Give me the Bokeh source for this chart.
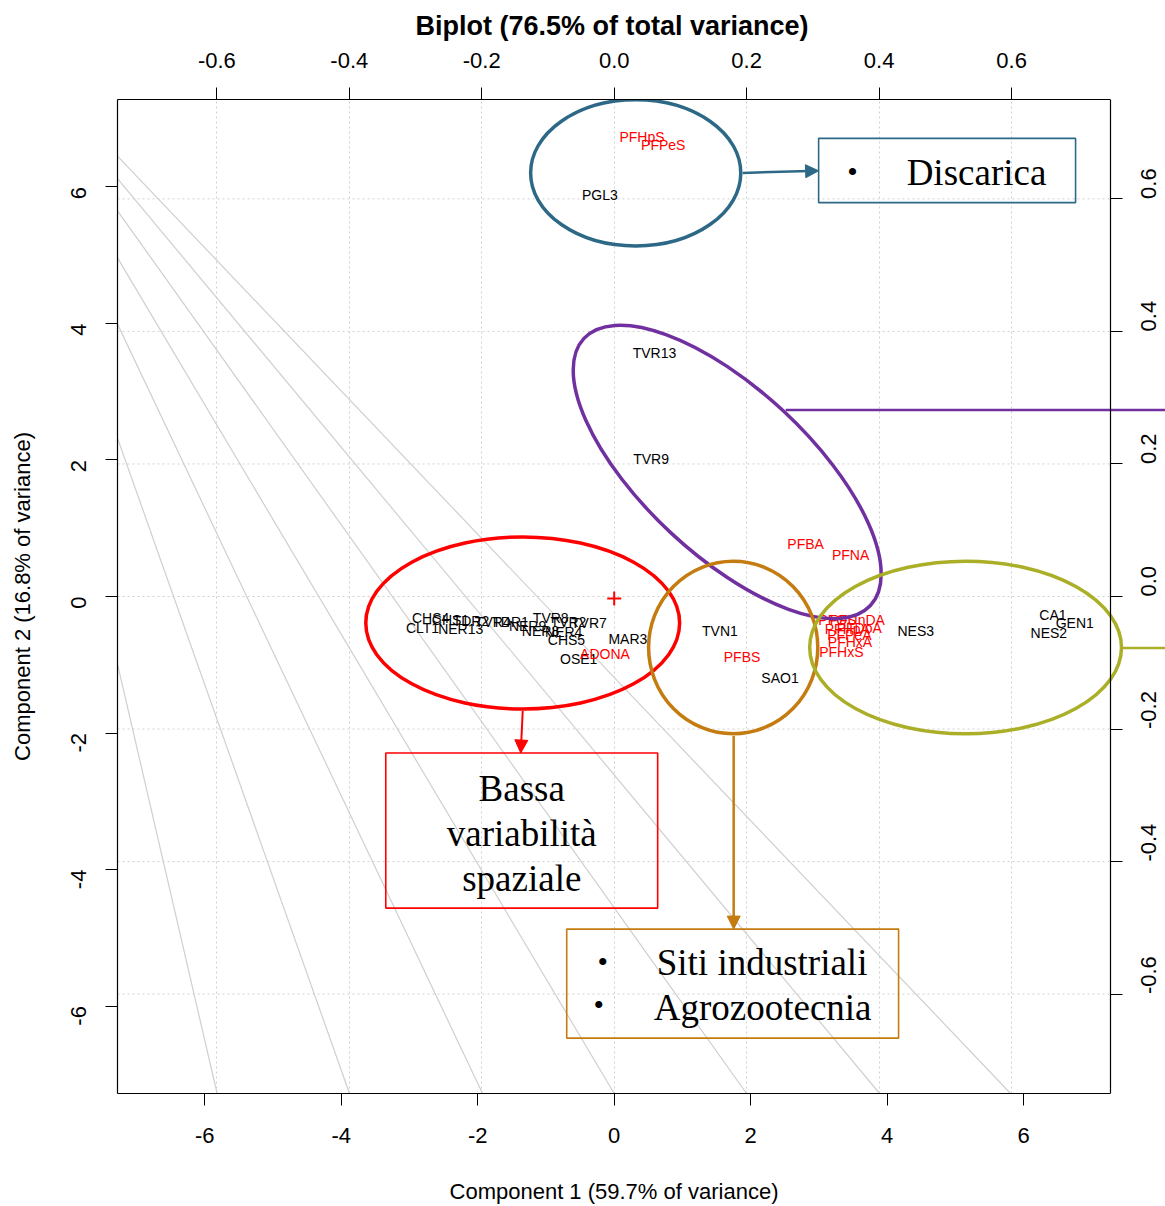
import math
from bokeh.plotting import figure
from bokeh.models import (Range1d, LinearAxis, FixedTicker, PrintfTickFormatter,
                          Grid, Arrow, NormalHead, Label)
from bokeh.embed import file_html
from bokeh.resources import INLINE

# ---------------- data ----------------
score_ticks = [-6, -4, -2, 0, 2, 4, 6]
load_ticks = [-0.6, -0.4, -0.2, 0.0, 0.2, 0.4, 0.6]

obs_labels = ["PGL3", "TVR13", "TVR9", "TVN1", "SAO1", "NES3", "CA1", "GEN1", "NES2",
              "MAR3", "OSE1", "CHS5", "CHS4", "CLT1", "CHS1", "NER13", "TDR2", "TVR4",
              "TDR1", "NER9", "TVR8", "NER8", "NER4", "TVR2", "TVR7"]
obs_pc1 = [-0.21, 0.59, 0.54, 1.55, 2.43, 4.42, 6.43, 6.75, 6.37,
           0.20, -0.52, -0.70, -2.69, -2.81, -2.40, -2.25, -2.10, -1.78,
           -1.52, -1.27, -0.93, -1.08, -0.74, -0.67, -0.37]
obs_pc2 = [5.88, 3.56, 2.02, -0.51, -1.19, -0.51, -0.27, -0.39, -0.54,
           -0.62, -0.92, -0.64, -0.32, -0.46, -0.34, -0.48, -0.36, -0.37,
           -0.37, -0.43, -0.32, -0.51, -0.52, -0.37, -0.39]

var_labels = ["PFHpS", "PFPeS", "PFBA", "PFNA", "ADONA", "PFBS", "PFOS", "PFUnDA",
              "PFDoA", "PFHpA", "PFPeA", "PFHxA", "PFHxS"]
var_pc1 = [0.042, 0.074, 0.289, 0.357, -0.014, 0.193, 0.337, 0.367,
           0.370, 0.352, 0.355, 0.356, 0.343]
var_pc2 = [0.694, 0.682, 0.079, 0.063, -0.087, -0.091, -0.035, -0.035,
           -0.048, -0.049, -0.058, -0.069, -0.084]

# grey fan of reference lines (left edge -> bottom edge), score units
fan_y_left = [6.45, 6.12, 5.65, 4.96, 3.99, 2.32, -0.99]
fan_x_bottom = [5.81, 3.89, 1.94, 0.0, -1.93, -3.88, -5.82]

# annotation groups (ellipses)
ell_x = [0.315, 1.656, -1.341, 1.744, 5.150]
ell_y = [6.205, 1.824, -0.388, -0.747, -0.747]
ell_w = [3.08, 5.74, 4.60, 2.48, 4.57]
ell_h = [2.14, 2.43, 2.52, 2.53, 2.53]
ell_angle_deg = [0, -43, 0, 0, 0]
TEAL, PURPLE, RED, BROWN, OLIVE = "#2D6987", "#7030A0", "#FF0000", "#C47C10", "#ABAF28"
ell_color = [TEAL, PURPLE, RED, BROWN, OLIVE]

LIM = 7.28           # plotting box half-width in score units
LIM_PAGE = 8.08      # drawing area runs on to the page edge (connector lines)
LLIM = 0.75          # plotting box half-width in loading units
LLIM_PAGE = LLIM * LIM_PAGE / LIM
SANS = "Liberation Sans"
SERIF = "Liberation Serif"
NBSP = "\u00a0"

p = figure(frame_width=1048, frame_height=994,
           x_range=Range1d(-LIM, LIM_PAGE), y_range=Range1d(-LIM, LIM),
           output_backend="svg", toolbar_location=None,
           min_border_left=117, min_border_top=99, min_border_right=0,
           min_border_bottom=100)
p.extra_x_ranges = {"load": Range1d(-LLIM, LLIM_PAGE)}
p.extra_y_ranges = {"load": Range1d(-LLIM, LLIM)}
p.background_fill_color = "white"
p.border_fill_color = "white"
p.outline_line_color = None
p.xgrid.visible = False
p.ygrid.visible = False

p.title.text = "Biplot (76.5% of total variance)"
p.title.align = "left"
p.title.offset = 298
p.title.text_font = SANS
p.title.text_font_size = "27px"
p.title.text_font_style = "bold"
p.title.text_color = "black"
p.title.standoff = 17


def style_axis(ax, ticks, fmt):
    ax.ticker = FixedTicker(ticks=ticks)
    ax.formatter = PrintfTickFormatter(format=fmt)
    ax.major_tick_out = 12
    ax.major_tick_in = 0
    ax.minor_tick_out = 0
    ax.minor_tick_in = 0
    ax.major_label_text_font = SANS
    ax.major_label_text_font_size = "22px"
    ax.major_label_text_color = "black"
    ax.axis_line_color = "black"
    ax.axis_line_width = 1.2
    ax.major_tick_line_color = "black"
    ax.axis_label_text_font = SANS
    ax.axis_label_text_font_size = "22px"
    ax.axis_label_text_font_style = "normal"
    ax.axis_label_text_color = "black"


xb = p.xaxis[0]
style_axis(xb, score_ticks, "%d")
xb.bounds = (-LIM, LIM)
xb.major_label_standoff = 22
# trailing no-break spaces keep the label centred on the plotting box, not the page strip
xb.axis_label = "Component 1 (59.7% of variance)" + NBSP * 9
xb.axis_label_standoff = 33

yl = p.yaxis[0]
style_axis(yl, score_ticks, "%d")
yl.major_label_orientation = math.pi / 2
yl.major_label_standoff = 27
yl.axis_label = "Component 2 (16.8% of variance)"
yl.axis_label_standoff = 26

xt = LinearAxis(x_range_name="load")
style_axis(xt, load_ticks, "%.1f")
xt.bounds = (-LLIM, LLIM)
xt.major_label_standoff = 20
p.add_layout(xt, "above")

yr = LinearAxis(y_range_name="load", fixed_location=LIM)
style_axis(yr, load_ticks, "%.1f")
yr.major_label_orientation = math.pi / 2
yr.major_label_standoff = 26
p.add_layout(yr, "right")

# dotted grid at loading ticks
p.add_layout(Grid(dimension=0, ticker=FixedTicker(ticks=load_ticks),
                  x_range_name="load", y_range_name="load",
                  grid_line_color="#D0D0D0", grid_line_dash="2 3", grid_line_width=1))
p.segment(x0=[-LLIM] * len(load_ticks), x1=[LLIM] * len(load_ticks),
          y0=load_ticks, y1=load_ticks, line_color="#D0D0D0", line_dash="2 3",
          line_width=1, x_range_name="load", y_range_name="load")

# grey fan lines
p.segment(x0=[-LIM] * len(fan_y_left), y0=fan_y_left,
          x1=fan_x_bottom, y1=[-LIM] * len(fan_x_bottom),
          line_color="#CFCFCF", line_width=1.2)

# observation labels (scores)
p.text(x=obs_pc1, y=obs_pc2, text=obs_labels, text_align="center",
       text_baseline="middle", text_font={"value": SANS},
       text_font_size="14px", text_color="black")

# variable labels (loadings)
p.text(x=var_pc1, y=var_pc2, text=var_labels, text_align="center",
       text_baseline="middle", text_font={"value": SANS},
       text_font_size="14px", text_color="red",
       x_range_name="load", y_range_name="load")

# origin marker
p.scatter(x=[0], y=[-0.03], marker="cross", size=14, line_color="red", line_width=2)

# ellipses
p.ellipse(x=ell_x, y=ell_y, width=ell_w, height=ell_h,
          angle=[math.radians(a) for a in ell_angle_deg],
          fill_alpha=0, line_color=ell_color, line_width=3.5)

# boxes
box_left = [2.996, -3.348, -0.696]
box_right = [6.762, 0.637, 4.168]
box_top = [6.71, -2.293, -4.872]
box_bottom = [5.77, -4.564, -6.469]
box_color = [TEAL, RED, BROWN]
p.quad(left=box_left, right=box_right, top=box_top, bottom=box_bottom,
       fill_alpha=0, line_color=box_color, line_width=1.6)


def arrow(x0, y0, x1, y1, color, width=2.5):
    end = NormalHead(size=13, fill_color=color, line_color=color)
    p.add_layout(Arrow(end=end, x_start=x0, y_start=y0, x_end=x1, y_end=y1,
                       line_color=color, line_width=width))


arrow(1.883, 6.205, 2.996, 6.235, TEAL)
arrow(-1.341, -1.678, -1.370, -2.293, RED, width=2)
arrow(1.751, -2.044, 1.751, -4.872, BROWN)

# connectors running off to the right page edge
conn_x0 = [2.513, 7.44]
conn_y = [2.733, -0.755]
conn_color = [PURPLE, OLIVE]
p.segment(x0=conn_x0, y0=conn_y, x1=[LIM_PAGE + 0.2] * 2, y1=conn_y,
          line_color=conn_color, line_width=2.5)


def label(x, y, text, align="center", size="37px"):
    p.add_layout(Label(x=x, y=y, text=text, text_align=align, text_baseline="middle",
                       text_font=SERIF, text_font_size=size, text_color="black"))


label(3.494, 6.220, "•", size="30px")
label(4.286, 6.205, "Discarica", align="left")
label(-1.355, -2.806, "Bassa")
label(-1.355, -3.465, "variabilità")
label(-1.355, -4.125, "spaziale")
label(-0.169, -5.341, "•", size="30px")
label(0.623, -5.355, "Siti industriali", align="left")
label(-0.227, -5.971, "•", size="30px")
label(0.579, -6.015, "Agrozootecnia", align="left")

open("out.html", "w").write(file_html(p, INLINE))
